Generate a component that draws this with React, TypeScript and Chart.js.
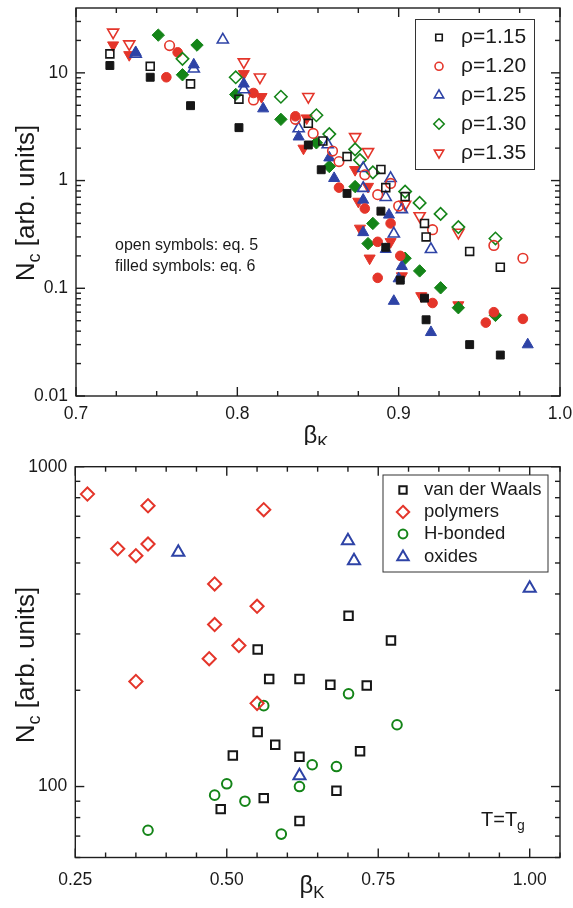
import React, { useEffect, useRef } from "react";
import { Chart, registerables } from "chart.js";

Chart.register(...registerables);

const FONT = '"Liberation Sans", Arial, Helvetica, sans-serif';
const BLACK = "#161616";
const RED = "#e4352a";
const BLUE = "#2e43a6";
const GREEN = "#148418";
const AXIS = "#1e1e1e";

type P = [number, number];

// ===== Top panel: N_c vs beta_K for several densities =====
const topXTicks = [0.7, 0.8, 0.9, 1.0];
const topYTicks = [0.01, 0.1, 1, 10];

const rho115Eq5: P[] = [[0.721, 15.0], [0.746, 11.5], [0.771, 7.9], [0.801, 5.7], [0.844, 3.4], [0.853, 2.33], [0.868, 1.67], [0.889, 1.27], [0.892, 0.86], [0.904, 0.71], [0.916, 0.4], [0.917, 0.3], [0.944, 0.22], [0.963, 0.157]];
const rho115Eq6: P[] = [[0.721, 11.7], [0.746, 9.1], [0.771, 4.96], [0.801, 3.1], [0.844, 2.14], [0.852, 1.26], [0.868, 0.76], [0.889, 0.52], [0.892, 0.24], [0.901, 0.119], [0.916, 0.081], [0.917, 0.051], [0.944, 0.03], [0.963, 0.024]];
const rho120Eq5: P[] = [[0.758, 17.9], [0.81, 5.6], [0.836, 3.7], [0.847, 2.74], [0.859, 1.88], [0.863, 1.5], [0.879, 1.13], [0.887, 0.74], [0.895, 0.94], [0.9, 0.58], [0.921, 0.35], [0.959, 0.25], [0.977, 0.19]];
const rho120Eq6: P[] = [[0.756, 9.1], [0.763, 15.5], [0.81, 6.5], [0.836, 3.95], [0.863, 0.86], [0.879, 0.55], [0.887, 0.27], [0.895, 0.4], [0.887, 0.125], [0.901, 0.2], [0.921, 0.073], [0.954, 0.048], [0.959, 0.06], [0.977, 0.052]];
const rho125Eq5: P[] = [[0.737, 15.0], [0.773, 10.9], [0.791, 20.3], [0.804, 7.0], [0.838, 3.04], [0.856, 2.16], [0.878, 1.3], [0.878, 0.85], [0.895, 1.05], [0.892, 0.7], [0.902, 0.54], [0.897, 0.32], [0.92, 0.23]];
const rho125Eq6: P[] = [[0.737, 15.5], [0.773, 11.9], [0.804, 7.9], [0.816, 4.65], [0.838, 2.55], [0.857, 1.63], [0.86, 1.05], [0.878, 0.66], [0.878, 0.33], [0.894, 0.48], [0.892, 0.23], [0.902, 0.16], [0.9, 0.123], [0.897, 0.076], [0.92, 0.039], [0.98, 0.03]];
const rho130Eq5: P[] = [[0.766, 13.5], [0.799, 9.1], [0.827, 6.0], [0.849, 4.04], [0.857, 2.7], [0.873, 1.95], [0.876, 1.55], [0.884, 1.19], [0.904, 0.79], [0.913, 0.62], [0.926, 0.49], [0.937, 0.37], [0.96, 0.29]];
const rho130Eq6: P[] = [[0.751, 22.4], [0.766, 9.6], [0.775, 18.1], [0.799, 6.3], [0.827, 3.7], [0.849, 2.24], [0.857, 1.35], [0.873, 0.88], [0.884, 0.4], [0.881, 0.26], [0.904, 0.19], [0.913, 0.145], [0.926, 0.101], [0.937, 0.066], [0.96, 0.056]];
const rho135Eq5: P[] = [[0.723, 23.8], [0.733, 18.5], [0.804, 12.6], [0.814, 9.1], [0.844, 6.0], [0.873, 2.55], [0.881, 1.85], [0.904, 0.6], [0.913, 0.47], [0.937, 0.33]];
const rho135Eq6: P[] = [[0.723, 18.1], [0.733, 14.7], [0.804, 9.8], [0.815, 6.0], [0.843, 3.8], [0.841, 1.99], [0.873, 1.26], [0.881, 0.88], [0.875, 0.64], [0.876, 0.36], [0.895, 0.27], [0.882, 0.19], [0.902, 0.13], [0.914, 0.085], [0.937, 0.07]];

const rhoLabels = ["ρ=1.15", "ρ=1.20", "ρ=1.25", "ρ=1.30", "ρ=1.35"];

// ===== Bottom panel: N_c at T=Tg vs beta_K by material class =====
const botXTicks = [0.25, 0.5, 0.75, 1.0];
const botYTicks = [100, 1000];

const vdWaals: P[] = [[0.701, 342], [0.771, 286], [0.551, 268], [0.57, 217], [0.62, 217], [0.671, 208], [0.731, 207], [0.551, 148], [0.58, 135], [0.51, 125], [0.62, 124], [0.72, 129], [0.681, 97], [0.561, 92], [0.49, 85], [0.62, 78]];
const polymers: P[] = [[0.27, 821], [0.37, 755], [0.561, 734], [0.32, 554], [0.35, 527], [0.37, 573], [0.48, 430], [0.55, 366], [0.48, 321], [0.52, 276], [0.471, 251], [0.35, 213], [0.55, 182]];
const hBonded: P[] = [[0.701, 195], [0.781, 156], [0.561, 179], [0.641, 117], [0.681, 115.5], [0.62, 100], [0.5, 102], [0.48, 94], [0.53, 90], [0.59, 71], [0.37, 73]];
const oxides: P[] = [[0.42, 540], [0.62, 108], [0.7, 587], [0.71, 508], [1.0, 417]];

const classLabels = ["van der Waals", "polymers", "H-bonded", "oxides"];

// ---------- drawing helpers ----------
type Seg = { t: string; sub?: boolean };

function drawSegs(ctx: CanvasRenderingContext2D, segs: Seg[], x: number, y: number, size: number, align: "left" | "center") {
  const subSize = size * 0.7;
  ctx.textBaseline = "middle";
  ctx.textAlign = "left";
  let total = 0;
  const widths = segs.map((s) => {
    ctx.font = `${s.sub ? subSize : size}px ${FONT}`;
    const w = ctx.measureText(s.t).width;
    total += w;
    return w;
  });
  let cx = align === "center" ? x - total / 2 : x;
  segs.forEach((s, i) => {
    ctx.font = `${s.sub ? subSize : size}px ${FONT}`;
    ctx.fillText(s.t, cx, s.sub ? y + size * 0.32 : y);
    cx += widths[i];
  });
}

function drawMarker(ctx: CanvasRenderingContext2D, style: string, x: number, y: number, r: number, rot: number, color: string, filled: boolean, lw: number) {
  ctx.beginPath();
  if (style === "circle") {
    ctx.arc(x, y, r, 0, Math.PI * 2);
  } else if (style === "rect") {
    const s = r * Math.SQRT1_2;
    ctx.rect(x - s, y - s, 2 * s, 2 * s);
  } else if (style === "rectRot") {
    ctx.moveTo(x, y - r);
    ctx.lineTo(x + r, y);
    ctx.lineTo(x, y + r);
    ctx.lineTo(x - r, y);
    ctx.closePath();
  } else {
    let a = (rot * Math.PI) / 180;
    ctx.moveTo(x + Math.sin(a) * r, y - Math.cos(a) * r);
    a += (2 * Math.PI) / 3;
    ctx.lineTo(x + Math.sin(a) * r, y - Math.cos(a) * r);
    a += (2 * Math.PI) / 3;
    ctx.lineTo(x + Math.sin(a) * r, y - Math.cos(a) * r);
    ctx.closePath();
  }
  ctx.lineWidth = lw;
  ctx.strokeStyle = color;
  if (filled) {
    ctx.fillStyle = color;
    ctx.fill();
  }
  ctx.stroke();
}

type LegendItem = { style: string; rot: number; color: string; label: string; r: number };
type FrameCfg = {
  xMajor: number[];
  xMinor: number[];
  yMajor: number[];
  yMinor: number[];
  legend: { box: [number, number, number, number]; mx: number; tx: number; rows: number[]; items: LegendItem[]; size: number; lw: number };
  texts: { segs: Seg[]; x: number; y: number; size: number; align: "left" | "center"; rotate?: boolean }[];
};

function framePlugin(cfg: FrameCfg) {
  return {
    id: "frameAndDecor",
    afterDatasetsDraw(chart: any) {
      const ctx: CanvasRenderingContext2D = chart.ctx;
      const { left, right, top, bottom } = chart.chartArea;
      const xs = chart.scales.x;
      const ys = chart.scales.y;
      ctx.save();
      ctx.strokeStyle = AXIS;
      ctx.lineWidth = 1.4;
      ctx.strokeRect(left, top, right - left, bottom - top);
      const line = (x1: number, y1: number, x2: number, y2: number) => {
        ctx.beginPath();
        ctx.moveTo(x1, y1);
        ctx.lineTo(x2, y2);
        ctx.stroke();
      };
      const xt = (vals: number[], len: number) =>
        vals.forEach((v) => {
          const p = xs.getPixelForValue(v);
          line(p, bottom, p, bottom - len);
          line(p, top, p, top + len);
        });
      const yt = (vals: number[], len: number) =>
        vals.forEach((v) => {
          const p = ys.getPixelForValue(v);
          line(left, p, left + len, p);
          line(right, p, right - len, p);
        });
      xt(cfg.xMajor, 9);
      xt(cfg.xMinor, 5);
      yt(cfg.yMajor, 9);
      yt(cfg.yMinor, 5);

      // legend
      const L = cfg.legend;
      const [bx, by, bw, bh] = L.box;
      ctx.fillStyle = "#ffffff";
      ctx.fillRect(bx, by, bw, bh);
      ctx.strokeStyle = "#333";
      ctx.lineWidth = 1;
      ctx.strokeRect(bx, by, bw, bh);
      L.items.forEach((it, i) => {
        drawMarker(ctx, it.style, L.mx, L.rows[i], it.r, it.rot, it.color, false, L.lw);
        ctx.fillStyle = "#1a1a1a";
        drawSegs(ctx, [{ t: it.label }], L.tx, L.rows[i], L.size, "left");
      });

      // texts
      ctx.fillStyle = "#1a1a1a";
      cfg.texts.forEach((t) => {
        if (t.rotate) {
          ctx.save();
          ctx.translate(t.x, t.y);
          ctx.rotate(-Math.PI / 2);
          drawSegs(ctx, t.segs, 0, 0, t.size, t.align);
          ctx.restore();
        } else {
          drawSegs(ctx, t.segs, t.x, t.y, t.size, t.align);
        }
      });
      ctx.restore();
    },
  };
}

function toPts(d: P[]) {
  return d.map(([x, y]) => ({ x, y }));
}

function ds(d: P[], style: string, rot: number, color: string, filled: boolean, r: number, lw: number) {
  return {
    data: toPts(d),
    pointStyle: style,
    pointRotation: rot,
    pointRadius: r,
    pointHoverRadius: r,
    pointBorderWidth: lw,
    pointBorderColor: color,
    pointBackgroundColor: filled ? color : "rgba(0,0,0,0)",
    borderColor: color,
    backgroundColor: filled ? color : "rgba(0,0,0,0)",
    showLine: false,
  };
}

function range(a: number, b: number, step: number) {
  const out: number[] = [];
  for (let v = a; v <= b + 1e-9; v += step) out.push(Math.round(v * 1000) / 1000);
  return out;
}

function logMinors(decades: number[], max: number, min: number) {
  const out: number[] = [];
  decades.forEach((d) => {
    for (let m = 2; m <= 9; m++) {
      const v = m * d;
      if (v > min && v < max) out.push(v);
    }
  });
  return out;
}

const TICK_FONT = 17.5;

function scalesCfg(opts: {
  xMin: number; xMax: number; yMin: number; yMax: number; xTicks: number[]; yTicks: number[];
  yWidth: number; xHeight: number; xDigits: number; xPad: number;
}) {
  return {
    x: {
      type: "linear",
      position: "bottom",
      min: opts.xMin,
      max: opts.xMax,
      grid: { display: false, drawTicks: false },
      border: { display: false },
      afterBuildTicks: (s: any) => {
        s.ticks = opts.xTicks.map((v) => ({ value: v }));
      },
      afterFit: (s: any) => {
        s.height = opts.xHeight;
        s.paddingLeft = 0;
        s.paddingRight = 0;
      },
      ticks: {
        autoSkip: false,
        maxRotation: 0,
        padding: opts.xPad,
        color: "#1a1a1a",
        font: { family: FONT, size: TICK_FONT },
        callback: (v: any) => Number(v).toFixed(opts.xDigits),
      },
    },
    y: {
      type: "logarithmic",
      position: "left",
      min: opts.yMin,
      max: opts.yMax,
      grid: { display: false, drawTicks: false },
      border: { display: false },
      afterBuildTicks: (s: any) => {
        s.ticks = opts.yTicks.map((v) => ({ value: v }));
      },
      afterFit: (s: any) => {
        s.width = opts.yWidth;
        s.paddingTop = 0;
        s.paddingBottom = 0;
      },
      ticks: {
        autoSkip: false,
        padding: 8,
        color: "#1a1a1a",
        font: { family: FONT, size: TICK_FONT },
        callback: (v: any) => String(v),
      },
    },
  };
}

const NC: Seg[] = [{ t: "N" }, { t: "c", sub: true }, { t: " [arb. units]" }];
const BK: Seg[] = [{ t: "β" }, { t: "K", sub: true }];

export default function App() {
  const topRef = useRef<HTMLCanvasElement>(null);
  const botRef = useRef<HTMLCanvasElement>(null);

  useEffect(() => {
    const rhoSeries = [
      { open: rho115Eq5, filled: rho115Eq6, style: "rect", rot: 0, color: BLACK, r: 5.6, lr: 4.6 },
      { open: rho120Eq5, filled: rho120Eq6, style: "circle", rot: 0, color: RED, r: 4.8, lr: 4.0 },
      { open: rho125Eq5, filled: rho125Eq6, style: "triangle", rot: 0, color: BLUE, r: 6.4, lr: 5.4 },
      { open: rho130Eq5, filled: rho130Eq6, style: "rectRot", rot: 0, color: GREEN, r: 6.2, lr: 5.2 },
      { open: rho135Eq5, filled: rho135Eq6, style: "triangle", rot: 180, color: RED, r: 6.4, lr: 5.4 },
    ];
    const topDatasets: any[] = [];
    rhoSeries.forEach((s) => topDatasets.push(ds(s.open, s.style, s.rot, s.color, false, s.r, 1.6)));
    rhoSeries.forEach((s) => topDatasets.push(ds(s.filled, s.style, s.rot, s.color, true, s.r, 1)));

    const topChart = new Chart(topRef.current as HTMLCanvasElement, {
      type: "scatter",
      data: { datasets: topDatasets },
      options: {
        responsive: false,
        animation: false,
        events: [],
        layout: { padding: { left: 0, right: 13, top: 5, bottom: 0 } },
        plugins: { legend: { display: false }, tooltip: { enabled: false } },
        scales: scalesCfg({ xMin: 0.7, xMax: 1.0, yMin: 0.01, yMax: 40, xTicks: topXTicks, yTicks: topYTicks, yWidth: 76, xHeight: 49, xDigits: 1, xPad: 8 }) as any,
      },
      plugins: [
        framePlugin({
          xMajor: topXTicks,
          xMinor: range(0.7, 1.0, 0.025).filter((v) => !topXTicks.some((t) => Math.abs(t - v) < 1e-6)),
          yMajor: topYTicks,
          yMinor: logMinors([0.01, 0.1, 1, 10], 40, 0.01),
          legend: {
            box: [415.5, 19.5, 119, 150],
            mx: 439,
            tx: 461,
            rows: [37.5, 66.3, 95.2, 124, 152.8],
            size: 21,
            lw: 1.6,
            items: rhoSeries.map((s, i) => ({ style: s.style, rot: s.rot, color: s.color, label: rhoLabels[i], r: s.lr })),
          },
          texts: [
            { segs: [{ t: "open symbols: eq. 5" }], x: 115, y: 246, size: 16, align: "left" },
            { segs: [{ t: "filled symbols: eq. 6" }], x: 115, y: 267, size: 16, align: "left" },
            { segs: BK, x: 316, y: 436, size: 24, align: "center" },
            { segs: NC, x: 27, y: 203, size: 26, align: "center", rotate: true },
          ],
        }) as any,
      ],
    });

    const classSeries = [
      { data: vdWaals, style: "rect", rot: 0, color: BLACK, r: 6.0, lr: 5.2 },
      { data: polymers, style: "rectRot", rot: 0, color: RED, r: 6.6, lr: 6.2 },
      { data: hBonded, style: "circle", rot: 0, color: GREEN, r: 4.8, lr: 4.4 },
      { data: oxides, style: "triangle", rot: 0, color: BLUE, r: 7.0, lr: 6.6 },
    ];
    const botDatasets = classSeries.map((s) => ds(s.data, s.style, s.rot, s.color, false, s.r, 2));

    const botChart = new Chart(botRef.current as HTMLCanvasElement, {
      type: "scatter",
      data: { datasets: botDatasets as any },
      options: {
        responsive: false,
        animation: false,
        events: [],
        layout: { padding: { left: 0, right: 13, top: 21.7, bottom: 0 } },
        plugins: { legend: { display: false }, tooltip: { enabled: false } },
        scales: scalesCfg({ xMin: 0.25, xMax: 1.05, yMin: 60, yMax: 1000, xTicks: botXTicks, yTicks: botYTicks, yWidth: 75.3, xHeight: 50.5, xDigits: 2, xPad: 12 }) as any,
      },
      plugins: [
        framePlugin({
          xMajor: botXTicks,
          xMinor: range(0.25, 1.05, 0.05).filter((v) => !botXTicks.some((t) => Math.abs(t - v) < 1e-6)),
          yMajor: botYTicks,
          yMinor: logMinors([10, 100], 1000, 60).concat([60]),
          legend: {
            box: [383, 30, 165, 97],
            mx: 403,
            tx: 424,
            rows: [45, 67, 89, 112],
            size: 18.5,
            lw: 2,
            items: classSeries.map((s, i) => ({ style: s.style, rot: s.rot, color: s.color, label: classLabels[i], r: s.lr })),
          },
          texts: [
            { segs: [{ t: "T=T" }, { t: "g", sub: true }], x: 481, y: 375, size: 20, align: "left" },
            { segs: BK, x: 312, y: 441, size: 24, align: "center" },
            { segs: NC, x: 27, y: 220, size: 26, align: "center", rotate: true },
          ],
        }) as any,
      ],
    });

    return () => {
      topChart.destroy();
      botChart.destroy();
    };
  }, []);

  return (
    <div style={{ position: "absolute", left: 0, top: 0, width: 573, height: 908, background: "#ffffff" }}>
      <canvas ref={topRef} width={573} height={445} style={{ display: "block", width: 573, height: 445 }} />
      <canvas ref={botRef} width={573} height={463} style={{ display: "block", width: 573, height: 463 }} />
    </div>
  );
}
